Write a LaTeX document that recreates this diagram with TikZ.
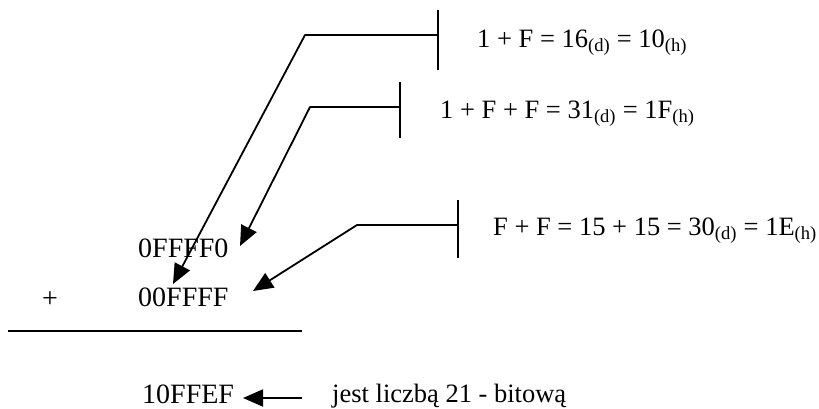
\documentclass[tikz,border=0pt]{standalone}
\usepackage{fontspec}
\setmainfont{Liberation Serif}
\usetikzlibrary{arrows.meta}
\begin{document}
\begin{tikzpicture}[x=1pt,y=-1pt,
  txt/.style={font=\fontsize{26.5}{30}\selectfont, inner sep=0pt, anchor=base west},
  num/.style={font=\fontsize{28}{32}\selectfont, inner sep=0pt, anchor=base west},
  ln/.style={line width=1.8pt},
  arr/.style={ln, line join=round, -{Triangle[length=20pt,width=17pt]}},
  bar/.style={line width=1.8pt}]
\useasboundingbox (0,0) rectangle (819,408);
% texts
\node[txt] (t1) at (477,47) {1 + F = 16\textsubscript{(d)} = 10\textsubscript{(h)}};
\node[txt] (t2) at (440,118) {1 + F + F = 31\textsubscript{(d)} = 1F\textsubscript{(h)}};
\node[txt] (t3) at (493,235) {F + F = 15 + 15 = 30\textsubscript{(d)} = 1E\textsubscript{(h)}};
\node[num] (a) at (138,257) {0FFFF0};
\node[num] (plus) at (42,307) {+};
\node[num] (b) at (138,306) {00FFFF};
\node[num] (c) at (142,403) {10FFEF};
\node[txt] (note) at (332,402) {jest liczbą 21 - bitową};
% bars
\coordinate (b1t) at (438,10); \coordinate (b1b) at (438,70); \coordinate (b1) at (438,35);
\coordinate (b2t) at (400,82); \coordinate (b2b) at (400,138); \coordinate (b2) at (400,107);
\coordinate (b3t) at (458,200); \coordinate (b3b) at (458,258); \coordinate (b3) at (458,225);
\draw[bar] (b1t) -- (b1b);
\draw[bar] (b2t) -- (b2b);
\draw[bar] (b3t) -- (b3b);
% bends and tips
\coordinate (k1) at (305,35); \coordinate (e1) at (173,284);
\coordinate (k2) at (310,107); \coordinate (e2) at (240,246);
\coordinate (k3) at (357,225); \coordinate (e3) at (253,291);
\draw[arr] (b1) -- (k1) -- (e1);
\draw[arr] (b2) -- (k2) -- (e2);
\draw[arr] (b3) -- (k3) -- (e3);
% sum rule
\coordinate (r1) at (8,331); \coordinate (r2) at (302,331);
\draw[line width=1.8pt] (r1) -- (r2);
% result arrow
\coordinate (n1) at (302,398); \coordinate (n2) at (243,398);
\draw[arr] (n1) -- (n2);
\end{tikzpicture}
\end{document}
